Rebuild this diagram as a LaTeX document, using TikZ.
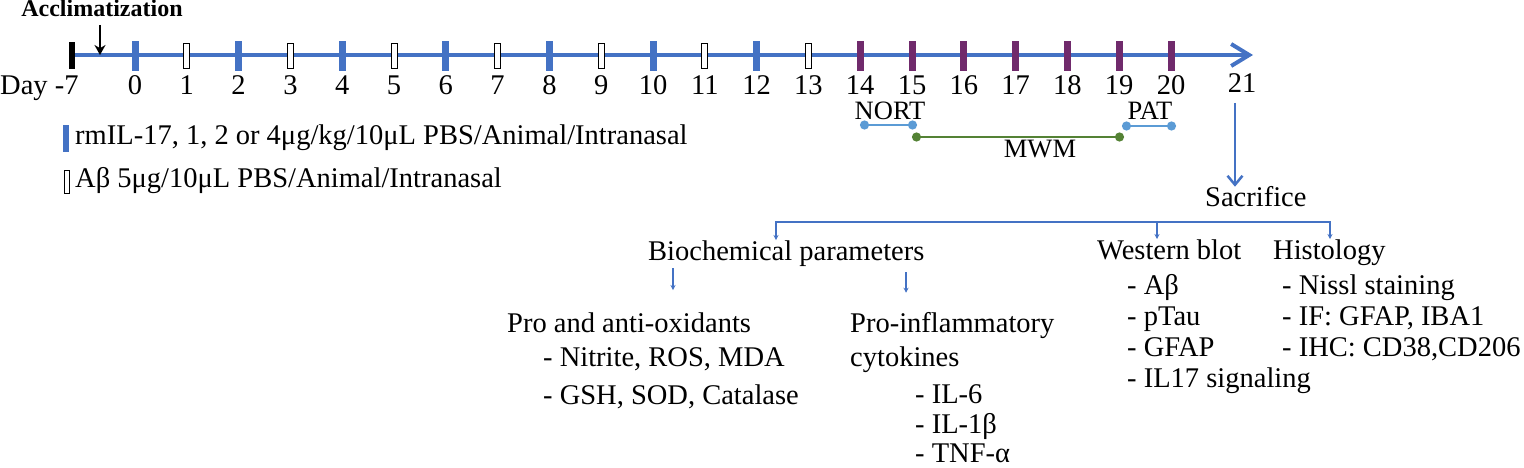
\documentclass[tikz,border=0pt]{standalone}
\usepackage{fontspec}
\setmainfont{Liberation Serif}
\usepackage{tikz}
\usetikzlibrary{arrows.meta}

\definecolor{tlblue}{RGB}{68,114,196}
\definecolor{ltblue}{RGB}{91,155,213}
\definecolor{tlgreen}{RGB}{84,130,53}
\definecolor{tlpurple}{RGB}{112,42,108}

\begin{document}
\begin{tikzpicture}[x=1pt,y=-1pt,
    text node/.style={anchor=base west,inner sep=0pt,font=\fontsize{28.5}{34}\selectfont},
    day node/.style={anchor=base,inner sep=0pt,font=\fontsize{28.5}{34}\selectfont},
    test node/.style={anchor=base,inner sep=0pt,font=\fontsize{26.5}{30}\selectfont},
    time line/.style={draw=tlblue,line width=4pt,-{Straight Barb[length=18pt,width=22pt]}},
    test line/.style={line width=2.5pt,{Circle[length=9pt]}-{Circle[length=9pt]}},
    tree line/.style={draw=tlblue,line width=1.5pt,{Stealth[length=5pt,width=5pt]}-{Stealth[length=5pt,width=5pt]}},
    small arrow/.style={draw=tlblue,line width=1.5pt,-{Stealth[length=5pt,width=5pt]}}]

  \useasboundingbox (0,0) rectangle (1524,468);

  %Timeline%
  \coordinate (start) at (72,55);
  \coordinate (end) at (1253,55);
  \draw[time line] (start) -- (end);
  \fill (69,42) rectangle +(6,27);
  \foreach \d in {0,2,...,12}
    \fill[tlblue] ({135+51.8*\d-3.5},41) rectangle +(7,30);
  \foreach \d in {1,3,...,13}
    \filldraw[fill=white,draw=black,line width=0.8pt] ({135+51.8*\d-3},43) rectangle +(6,25);
  \foreach \d in {14,...,20}
    \fill[tlpurple] ({135+51.8*\d-3.5},41) rectangle +(7,30);

  \node[text node] (day) at (0,95) {Day -7};
  \foreach \d in {0,...,20}
    \node[day node] (d\d) at ({135+51.8*\d},95) {\d};
  \node[day node] (d21) at (1242,93) {21};

  \node[anchor=base,inner sep=0pt,font=\fontsize{24}{28}\selectfont\bfseries] (accl) at (102,17) {Acclimatization};
  \coordinate (acc) at (100,25);
  \draw[line width=1.6pt,-{Stealth[length=10pt,width=11pt]}] (acc) -- (acc |- start);

  %Legend%
  \fill[tlblue] (63,125) rectangle +(6,27);
  \node[text node] (leg1) at (75,145) {rmIL-17, 1, 2 or 4μg/kg/10μL PBS/Animal/Intranasal};
  \draw[line width=0.8pt] (64,170) rectangle +(5,23);
  \node[text node] (leg2) at (75,187) {Aβ 5μg/10μL PBS/Animal/Intranasal};

  %Behaviour tests%
  \node[test node] (nort) at (890,120) {NORT};
  \node[test node] (pat) at (1150,120) {PAT};
  \node[test node] (mwm) at (1040,158) {MWM};
  \coordinate (n1) at (860,125);
  \coordinate (n2) at (917,125);
  \coordinate (m1) at (912,137);
  \coordinate (m2) at (1124,137);
  \coordinate (p1) at (1122,126);
  \coordinate (p2) at (1176,126);
  \draw[test line,ltblue] (n1) -- (n2);
  \draw[test line,tlgreen] (m1) -- (m2);
  \draw[test line,ltblue] (p1) -- (p2);

  %Sacrifice and analyses%
  \node[text node] (sac) at (1205,207) {Sacrifice};
  \coordinate (s21) at (1235,103);
  \draw[draw=tlblue,line width=2.5pt,-{Straight Barb[length=9pt,width=15pt]}] (s21) -- (s21 |- sac.north);

  \node[text node] (bio) at (648,260) {Biochemical parameters};
  \node[text node] (wb) at (1097,259) {Western blot};
  \node[text node] (hist) at (1273,259) {Histology};

  \coordinate (bk1) at (776,222);
  \coordinate (bk2) at (1157,222);
  \coordinate (bk3) at (1330,222);
  \draw[tree line] (bk1 |- bio.north) -- (bk1) -- (bk3) -- (bk3 |- hist.north);
  \draw[small arrow] (bk2) -- (bk2 |- wb.north);

  \node[text node] (pao) at (507,332) {Pro and anti-oxidants};
  \node[text node] (pao1) at (543,366) {-\ Nitrite, ROS, MDA};
  \node[text node] (pao2) at (543,404) {-\ GSH, SOD, Catalase};

  \node[text node] (pic) at (850,332) {Pro-inflammatory};
  \node[text node] (pic0) at (850,366) {cytokines};
  \node[text node] (pic1) at (915,403) {-\ IL-6};
  \node[text node] (pic2) at (915,433) {-\ IL-1β};
  \node[text node] (pic3) at (915,462) {-\ TNF-α};

  \coordinate (ba1) at (673,268);
  \coordinate (ba2) at (906,272);
  \draw[small arrow,shorten >=22pt] (ba1) -- (ba1 |- pao.north);
  \draw[small arrow,shorten >=19pt] (ba2) -- (ba2 |- pic.north);

  \node[text node] (wb1) at (1127,294) {- Aβ};
  \node[text node] (wb2) at (1127,325) {- pTau};
  \node[text node] (wb3) at (1127,356) {- GFAP};
  \node[text node] (wb4) at (1127,387) {- IL17 signaling};

  \node[text node] (hi1) at (1282,294) {- Nissl staining};
  \node[text node] (hi2) at (1282,325) {- IF: GFAP, IBA1};
  \node[text node] (hi3) at (1282,356) {- IHC: CD38,CD206};
\end{tikzpicture}
\end{document}
